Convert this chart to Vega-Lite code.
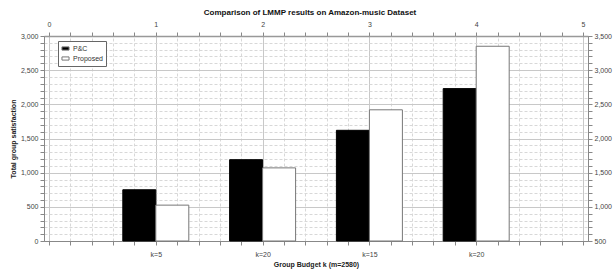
{
  "$schema": "https://vega.github.io/schema/vega-lite/v6.json",
  "autosize": "none",
  "width": 544,
  "height": 205,
  "padding": {"left": 44, "top": 36, "right": 27, "bottom": 31},
  "background": "white",
  "title": {"text": "Comparison of LMMP results on Amazon-music Dataset", "font": "Liberation Sans", "fontSize": 8, "fontWeight": "bold", "color": "#111", "offset": 3, "dx": -6},
  "config": {
    "font": "Liberation Sans",
    "view": {"stroke": "#888"},
    "axis": {"labelFont": "Liberation Sans", "labelFontSize": 7, "labelColor": "#444", "titleFont": "Liberation Sans", "titleFontSize": 7, "titleFontWeight": "bold", "titleColor": "#222", "domainColor": "#888", "tickColor": "#888", "tickSize": 4, "labelPadding": 2}
  },
  "data": {"values": [
    {"group": "k=5", "pos": 1, "series": "P&C", "value": 750},
    {"group": "k=5", "pos": 1, "series": "Proposed", "value": 525},
    {"group": "k=20", "pos": 2, "series": "P&C", "value": 1190},
    {"group": "k=20", "pos": 2, "series": "Proposed", "value": 1070},
    {"group": "k=15", "pos": 3, "series": "P&C", "value": 1620},
    {"group": "k=15", "pos": 3, "series": "Proposed", "value": 1920},
    {"group": "k=20", "pos": 4, "series": "P&C", "value": 2230},
    {"group": "k=20", "pos": 4, "series": "Proposed", "value": 2850}
  ]},
  "layer": [
    {
      "transform": [{"filter": "datum.series === 'P&C'"}],
      "mark": {"type": "bar", "width": 33, "xOffset": -16.5, "stroke": "#000", "strokeWidth": 1},
      "encoding": {
        "x": {"field": "pos", "type": "quantitative", "scale": {"domain": [0, 5], "nice": false},
          "axis": {"orient": "top", "title": null, "labelPadding": 5,
            "values": [0,0.2,0.4,0.6,0.8,1,1.2,1.4,1.6,1.8,2,2.2,2.4,2.6,2.8,3,3.2,3.4,3.6,3.8,4,4.2,4.4,4.6,4.8,5],
            "labelExpr": "abs(datum.value - round(datum.value)) < 0.01 ? format(datum.value, 'd') : ''",
            "grid": true,
            "gridColor": {"condition": {"test": "abs(datum.value - round(datum.value)) < 0.01", "value": "#c8c8c8"}, "value": "#d8d8d8"},
            "gridDash": {"condition": {"test": "abs(datum.value - round(datum.value)) < 0.01", "value": []}, "value": [3, 2]},
            "domainColor": "#999", "domainWidth": 1.5}},
        "y": {"field": "value", "type": "quantitative", "scale": {"domain": [0, 3000], "nice": false},
          "axis": {"orient": "left", "title": "Total group satisfaction", "titlePadding": 4,
            "values": [0,100,200,300,400,500,600,700,800,900,1000,1100,1200,1300,1400,1500,1600,1700,1800,1900,2000,2100,2200,2300,2400,2500,2600,2700,2800,2900,3000],
            "labelExpr": "datum.value % 500 === 0 ? format(datum.value, ',') : ''",
            "grid": true,
            "gridColor": {"condition": {"test": "datum.value % 500 === 0", "value": "#c8c8c8"}, "value": "#d8d8d8"},
            "gridDash": {"condition": {"test": "datum.value % 500 === 0", "value": []}, "value": [3, 2]}}},
        "color": {"field": "series", "type": "nominal", "scale": {"domain": ["P&C", "Proposed"], "range": ["#000000", "#ffffff"]},
          "legend": {"title": null, "orient": "none", "legendX": 14, "legendY": 5, "padding": 3, "strokeColor": "#666", "fillColor": "white",
            "symbolType": "M-1,-0.45H1V0.45H-1Z", "symbolSize": 50, "symbolStrokeColor": "#555", "symbolStrokeWidth": 1, "symbolOpacity": 1,
            "labelFontSize": 7, "labelColor": "#333", "labelFont": "Liberation Sans", "rowPadding": 1, "labelOffset": 3}}
      }
    },
    {
      "transform": [{"filter": "datum.series === 'Proposed'"}],
      "mark": {"type": "bar", "width": 33, "xOffset": 16.5, "stroke": "#777", "strokeWidth": 1},
      "encoding": {
        "x": {"field": "pos", "type": "quantitative",
          "axis": {"orient": "bottom", "title": "Group Budget k (m=2580)", "titlePadding": 3, "labelPadding": 5,
            "values": [0,0.2,0.4,0.6,0.8,1,1.2,1.4,1.6,1.8,2,2.2,2.4,2.6,2.8,3,3.2,3.4,3.6,3.8,4,4.2,4.4,4.6,4.8,5],
            "labelExpr": "abs(datum.value-1)<0.01 ? 'k=5' : abs(datum.value-2)<0.01 ? 'k=20' : abs(datum.value-3)<0.01 ? 'k=15' : abs(datum.value-4)<0.01 ? 'k=20' : ''",
            "grid": false}},
        "y": {"field": "value", "type": "quantitative",
          "axis": {"orient": "right", "title": null,
            "values": [0,100,200,300,400,500,600,700,800,900,1000,1100,1200,1300,1400,1500,1600,1700,1800,1900,2000,2100,2200,2300,2400,2500,2600,2700,2800,2900,3000],
            "labelExpr": "datum.value % 500 === 0 ? format(datum.value + 500, ',') : ''",
            "grid": false}},
        "color": {"field": "series", "type": "nominal"}
      }
    }
  ],
  "resolve": {"axis": {"x": "independent", "y": "independent"}}
}
